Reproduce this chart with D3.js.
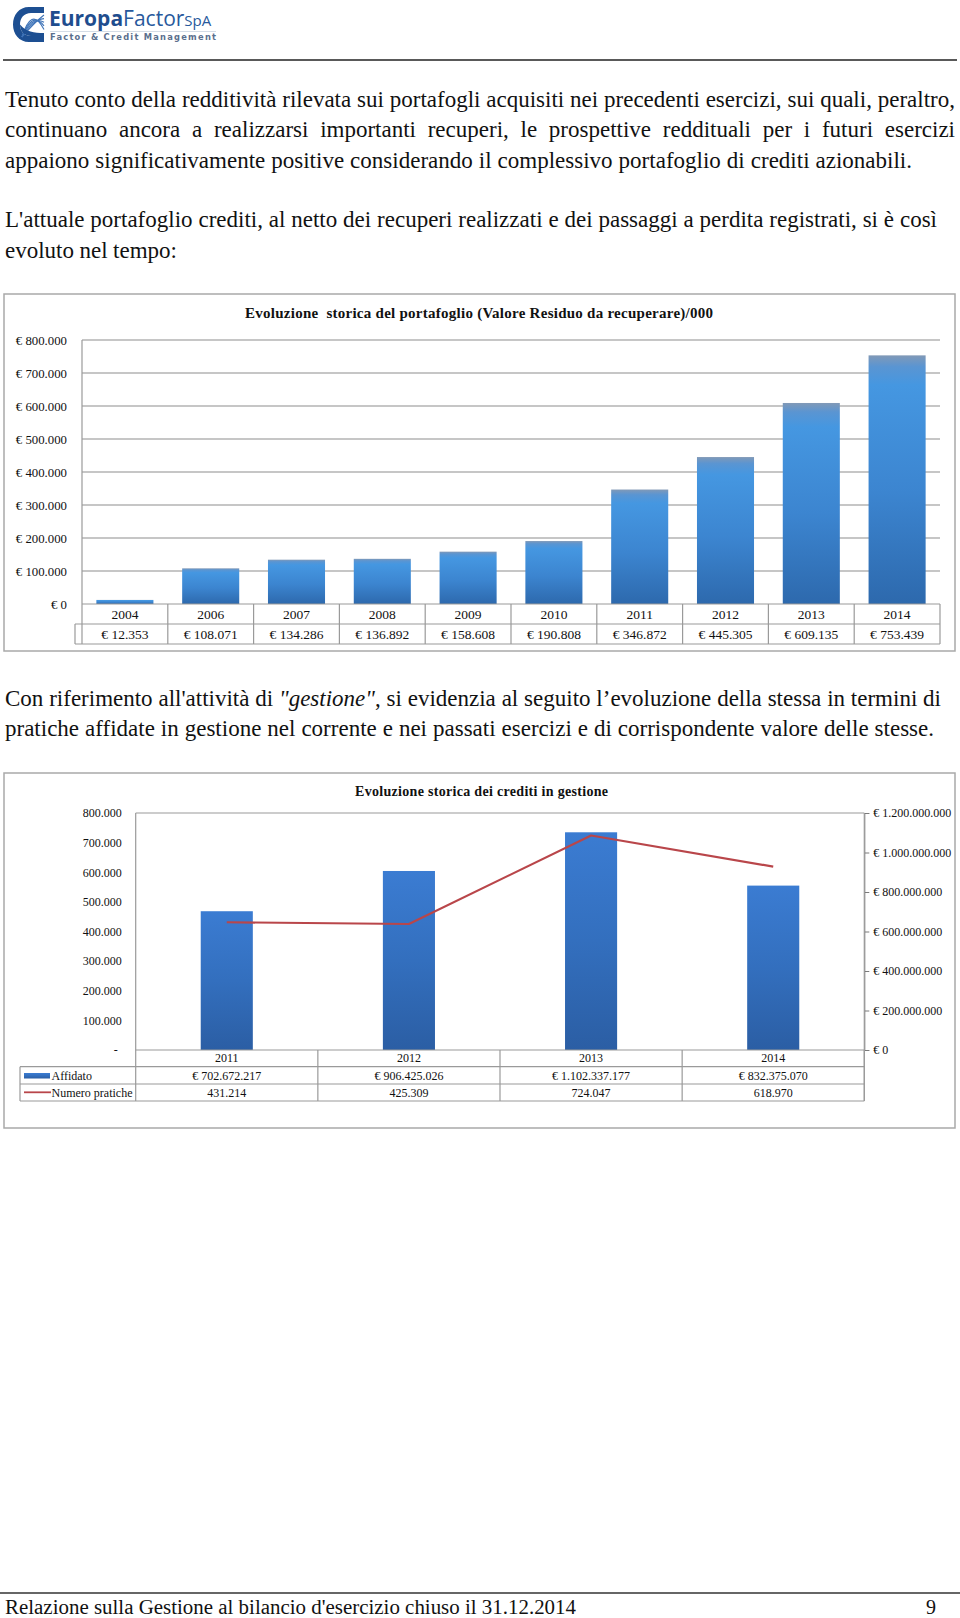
<!DOCTYPE html>
<html><head><meta charset="utf-8">
<script src="https://cdn.jsdelivr.net/npm/d3@7"></script>
<style>body{margin:0;background:#fff}svg{display:block}</style>
</head><body>
<svg id="page" width="960" height="1618"></svg>
<script>
// ---------- DATA ----------
const years1 = ["2004","2006","2007","2008","2009","2010","2011","2012","2013","2014"];
const residuo = [12353,108071,134286,136892,158608,190808,346872,445305,609135,753439];
const yTicks1 = [0,100000,200000,300000,400000,500000,600000,700000,800000];

const years2 = ["2011","2012","2013","2014"];
const affidato = [702672217,906425026,1102337177,832375070];
const pratiche = [431214,425309,724047,618970];
const leftTicks2 = [0,100000,200000,300000,400000,500000,600000,700000,800000];
const rightTicks2 = [0,200000000,400000000,600000000,800000000,1000000000,1200000000];

const title1 = "Evoluzione  storica del portafoglio (Valore Residuo da recuperare)/000";
const title2 = "Evoluzione storica dei crediti in gestione";
const seriesNames2 = ["Affidato","Numero pratiche"];

// ---------- SETUP ----------
const serif = "'Liberation Serif','Times New Roman',Times,serif";
const it = d3.formatLocale({decimal:",", thousands:".", grouping:[3], currency:["€ ",""]});
const fmtNum = it.format(",d");
const fmtEur = v => "€ " + fmtNum(v);
const svg = d3.select("#page");
svg.append("rect").attr("width",960).attr("height",1618).attr("fill","#fff");
const defs = svg.append("defs");

// ---------- LOGO ----------
const logo = svg.append("g");
logo.append("path")
  .attr("d","M44,7 L29,7 C19,7 13,15 13,24.5 C13,34 19,42 29,42 L44,42 L44,36 L31,36 C24,36 20,31 20,24.5 C20,18 24,13 31,13 L44,13 Z")
  .attr("fill","#1d4f92");
[0,1,2,3,4].forEach(i=>{
  logo.append("path")
    .attr("d",`M22,37 C28,${30-i*3} 35,${22-i*2.5} 44,${15+i*3.6}`)
    .attr("fill","none").attr("stroke","#3f74b8").attr("stroke-width",1.1);
});
logo.append("path").attr("d","M20,24.5 C20,31 24,36 31,36 L44,36 L44,33 C34,33 26,32 20,24.5 Z").attr("fill","#1d4f92");
const lt = logo.append("text").attr("x",49).attr("y",26)
  .style("font-family","'Open Sans','DejaVu Sans',sans-serif").attr("fill","#1f4d8e");
lt.append("tspan").text("Europa").style("font-weight","700").style("font-size","21px");
lt.append("tspan").text("Factor").style("font-weight","400").style("font-size","21px").attr("fill","#28599c");
lt.append("tspan").text("SpA").style("font-size","15px").attr("fill","#28599c");
logo.append("line").attr("x1",50).attr("x2",216).attr("y1",31.5).attr("y2",31.5).attr("stroke","#c9d3e0").attr("stroke-width",0.8);
logo.append("text").attr("x",50).attr("y",40).text("Factor & Credit Management")
  .style("font-family","'DejaVu Sans',sans-serif").style("font-size","8.3px").style("font-weight","700")
  .attr("fill","#5b6f8e").attr("textLength",166).attr("lengthAdjust","spacing");

svg.append("line").attr("x1",3).attr("x2",957).attr("y1",60).attr("y2",60).attr("stroke","#222").attr("stroke-width",1.3);

// ---------- PARAGRAPHS ----------
const lines = [
  {y:107, right:955, parts:[["Tenuto conto della redditività rilevata sui portafogli acquisiti nei precedenti esercizi, sui quali, peraltro,",0]]},
  {y:137.3, right:955, parts:[["continuano ancora a realizzarsi importanti recuperi, le prospettive reddituali per i futuri esercizi",0]]},
  {y:167.6, right:912, parts:[["appaiono significativamente positive considerando il complessivo portafoglio di crediti azionabili.",0]]},
  {y:227.3, right:937, parts:[["L'attuale portafoglio crediti, al netto dei recuperi realizzati e dei passaggi a perdita registrati, si è così",0]]},
  {y:257.6, right:177, parts:[["evoluto nel tempo:",0]]},
  {y:705.8, right:941, parts:[["Con riferimento all'attività di ",0],["\"gestione\"",1],[", si evidenzia al seguito l’evoluzione della stessa in termini di",0]]},
  {y:736.1, right:934, parts:[["pratiche affidate in gestione nel corrente e nei passati esercizi e di corrispondente valore delle stesse.",0]]}
];
lines.forEach(L=>{
  const t = svg.append("text").attr("x",5).attr("y",L.y)
    .style("font-family",serif).style("font-size","23px").attr("fill","#111").style("white-space","pre");
  L.parts.forEach(p=>t.append("tspan").text(p[0]).style("font-style",p[1]?"italic":"normal"));
  const full = L.parts.map(p=>p[0]).join("");
  const spaces = (full.match(/ /g)||[]).length;
  const nat = t.node().getComputedTextLength();
  const ws = (L.right - 5 - nat)/spaces;
  if (Math.abs(ws) < 8) t.attr("word-spacing", ws);
});

// ---------- CHART 1 ----------
const g1 = svg.append("g");
g1.append("rect").attr("x",4).attr("y",294).attr("width",951).attr("height",357)
  .attr("fill","#fff").attr("stroke","#a9a9a9").attr("stroke-width",1.5);
g1.append("text").attr("x",479).attr("y",318).attr("text-anchor","middle").text(title1)
  .style("font-family",serif).style("font-size","15px").style("font-weight","700").style("white-space","pre")
  .attr("fill","#111").attr("textLength",468).attr("lengthAdjust","spacing");

const c1 = {left:82, right:940, top:340, bottom:604};
const x1 = d3.scaleBand().domain(years1).range([c1.left,c1.right]).paddingInner(0.335).paddingOuter(0.1675);
const y1 = d3.scaleLinear().domain([0,800000]).range([c1.bottom,c1.top]);

const grad1 = defs.append("linearGradient").attr("id","g1").attr("x1",0).attr("y1",0).attr("x2",0).attr("y2",1);
[[0,"#8199b7"],[0.045,"#5a95d2"],[0.12,"#4597e1"],[0.55,"#3c85d0"],[1,"#2d69ad"]]
  .forEach(s=>grad1.append("stop").attr("offset",s[0]).attr("stop-color",s[1]));

g1.selectAll("line.grid").data(yTicks1.filter(d=>d>0)).join("line")
  .attr("x1",c1.left).attr("x2",c1.right).attr("y1",d=>y1(d)).attr("y2",d=>y1(d))
  .attr("stroke","#8e8e8e").attr("stroke-width",1.2);

const ax1 = g1.append("g").attr("transform",`translate(${c1.left},0)`)
  .call(d3.axisLeft(y1).tickValues(yTicks1).tickSize(0).tickPadding(15).tickFormat(fmtEur));
ax1.select(".domain").remove();
ax1.selectAll("text").style("font-family",serif).style("font-size","12.8px").attr("fill","#111");

g1.selectAll("rect.bar").data(residuo).join("rect")
  .attr("x",(d,i)=>x1(years1[i])).attr("width",x1.bandwidth())
  .attr("y",d=>y1(d)).attr("height",d=>y1(0)-y1(d)).attr("fill","url(#g1)");

// table 1
const step1 = x1.step();
const cellL1 = d => x1(d) + x1.bandwidth()/2 - step1/2;
const tc = "#9a9a9a";
g1.append("line").attr("x1",c1.left).attr("x2",c1.left).attr("y1",c1.top).attr("y2",644).attr("stroke",tc).attr("stroke-width",1.2);
[[604,c1.left],[624,75],[644,75]].forEach(r=>g1.append("line").attr("x1",r[1]).attr("x2",c1.right).attr("y1",r[0]).attr("y2",r[0]).attr("stroke",tc).attr("stroke-width",1.2));
g1.append("line").attr("x1",75).attr("x2",75).attr("y1",624).attr("y2",644).attr("stroke",tc).attr("stroke-width",1.2);
g1.selectAll("line.cv").data(years1).join("line")
  .attr("x1",d=>cellL1(d)+step1).attr("x2",d=>cellL1(d)+step1).attr("y1",604).attr("y2",644)
  .attr("stroke",tc).attr("stroke-width",1.2);
g1.selectAll("text.cat").data(years1).join("text")
  .attr("x",d=>x1(d)+x1.bandwidth()/2).attr("y",619).attr("text-anchor","middle").text(d=>d)
  .style("font-family",serif).style("font-size","13.5px").attr("fill","#111");
g1.selectAll("text.val").data(residuo).join("text")
  .attr("x",(d,i)=>x1(years1[i])+x1.bandwidth()/2).attr("y",639).attr("text-anchor","middle").text(fmtEur)
  .style("font-family",serif).style("font-size","13.5px").attr("fill","#111");

// ---------- CHART 2 ----------
const g2 = svg.append("g");
g2.append("rect").attr("x",4).attr("y",773).attr("width",951).attr("height",355)
  .attr("fill","#fff").attr("stroke","#a9a9a9").attr("stroke-width",1.5);
g2.append("text").attr("x",481.5).attr("y",796).attr("text-anchor","middle").text(title2)
  .style("font-family",serif).style("font-size","14px").style("font-weight","700")
  .attr("fill","#111").attr("textLength",253).attr("lengthAdjust","spacing");

const c2 = {left:135.7, right:864.3, top:813, bottom:1050};
const x2 = d3.scaleBand().domain(years2).range([c2.left,c2.right]).paddingInner(0.714).paddingOuter(0.357);
const yL = d3.scaleLinear().domain([0,800000]).range([c2.bottom,c2.top]);
const yR = d3.scaleLinear().domain([0,1200000000]).range([c2.bottom,c2.top]);

const grad2 = defs.append("linearGradient").attr("id","g2").attr("x1",0).attr("y1",0).attr("x2",0).attr("y2",1);
[[0,"#3b7cd2"],[0.5,"#336fbe"],[1,"#2b5ea4"]].forEach(s=>grad2.append("stop").attr("offset",s[0]).attr("stop-color",s[1]));

// plot frame
g2.append("line").attr("x1",c2.left).attr("x2",c2.right).attr("y1",c2.top).attr("y2",c2.top).attr("stroke",tc).attr("stroke-width",1.2);
g2.append("line").attr("x1",c2.left).attr("x2",c2.left).attr("y1",c2.top).attr("y2",1101).attr("stroke",tc).attr("stroke-width",1.2);

const axL = g2.append("g").attr("transform",`translate(${c2.left},0)`)
  .call(d3.axisLeft(yL).tickValues(leftTicks2).tickSize(0).tickPadding(14).tickFormat(d=>d===0?"-":fmtNum(d)));
axL.select(".domain").remove();
axL.selectAll("text").style("font-family",serif).style("font-size","12px").attr("fill","#111");
axL.selectAll(".tick").filter(d=>d===0).select("text").attr("x",-18);

const axR = g2.append("g").attr("transform",`translate(${c2.right},0)`)
  .call(d3.axisRight(yR).tickValues(rightTicks2).tickSize(5).tickPadding(4).tickFormat(fmtEur));
axR.select(".domain").attr("stroke",tc).attr("stroke-width",1.2);
axR.selectAll(".tick line").attr("stroke","#7a7a7a");
axR.selectAll("text").style("font-family",serif).style("font-size","12px").attr("fill","#111");

g2.selectAll("rect.bar").data(affidato).join("rect")
  .attr("x",(d,i)=>x2(years2[i])).attr("width",x2.bandwidth())
  .attr("y",d=>yR(d)).attr("height",d=>yR(0)-yR(d)).attr("fill","url(#g2)");

const lineGen = d3.line().x((d,i)=>x2(years2[i])+x2.bandwidth()/2).y(d=>yL(d));
g2.append("path").datum(pratiche).attr("d",lineGen).attr("fill","none")
  .attr("stroke","#b9464a").attr("stroke-width",2.2).attr("stroke-linejoin","round");

// table 2
const step2 = x2.step();
const cellL2 = d => x2(d) + x2.bandwidth()/2 - step2/2;
[[1050,c2.left],[1066.7,20],[1084,20],[1101,20]].forEach(r=>g2.append("line").attr("x1",r[1]).attr("x2",c2.right).attr("y1",r[0]).attr("y2",r[0]).attr("stroke",tc).attr("stroke-width",1.2));
g2.append("line").attr("x1",20).attr("x2",20).attr("y1",1066.7).attr("y2",1101).attr("stroke",tc).attr("stroke-width",1.2);
g2.selectAll("line.cv").data(years2).join("line")
  .attr("x1",d=>cellL2(d)+step2).attr("x2",d=>cellL2(d)+step2).attr("y1",1050).attr("y2",1101)
  .attr("stroke",tc).attr("stroke-width",1.2);
g2.append("line").attr("x1",c2.right).attr("x2",c2.right).attr("y1",c2.top).attr("y2",1101).attr("stroke",tc).attr("stroke-width",1.2);

const cx2 = (i)=>x2(years2[i])+x2.bandwidth()/2;
g2.selectAll("text.cat").data(years2).join("text")
  .attr("x",(d,i)=>cx2(i)).attr("y",1062).attr("text-anchor","middle").text(d=>d)
  .style("font-family",serif).style("font-size","12px").attr("fill","#111");
g2.selectAll("text.aff").data(affidato).join("text")
  .attr("x",(d,i)=>cx2(i)).attr("y",1079.5).attr("text-anchor","middle").text(fmtEur)
  .style("font-family",serif).style("font-size","12px").attr("fill","#111");
g2.selectAll("text.pra").data(pratiche).join("text")
  .attr("x",(d,i)=>cx2(i)).attr("y",1097).attr("text-anchor","middle").text(fmtNum)
  .style("font-family",serif).style("font-size","12px").attr("fill","#111");

// legend keys
g2.append("rect").attr("x",24).attr("y",1073).attr("width",26).attr("height",5.5).attr("fill","url(#g2)");
g2.append("line").attr("x1",24).attr("x2",51).attr("y1",1092.3).attr("y2",1092.3).attr("stroke","#b9464a").attr("stroke-width",1.8);
g2.selectAll("text.leg").data(seriesNames2).join("text")
  .attr("x",51.5).attr("y",(d,i)=>i?1097:1079.5).text(d=>d)
  .style("font-family",serif).style("font-size","12px").attr("fill","#111");

// ---------- FOOTER ----------
svg.append("line").attr("x1",0).attr("x2",960).attr("y1",1593).attr("y2",1593).attr("stroke","#333").attr("stroke-width",1.5);
svg.append("text").attr("x",5).attr("y",1614).text("Relazione sulla Gestione al bilancio d'esercizio chiuso il 31.12.2014")
  .style("font-family",serif).style("font-size","20px").attr("fill","#111")
  .attr("textLength",571).attr("lengthAdjust","spacingAndGlyphs");
svg.append("text").attr("x",936).attr("y",1614).attr("text-anchor","end").text("9")
  .style("font-family",serif).style("font-size","20px").attr("fill","#111");
</script>
</body></html>
